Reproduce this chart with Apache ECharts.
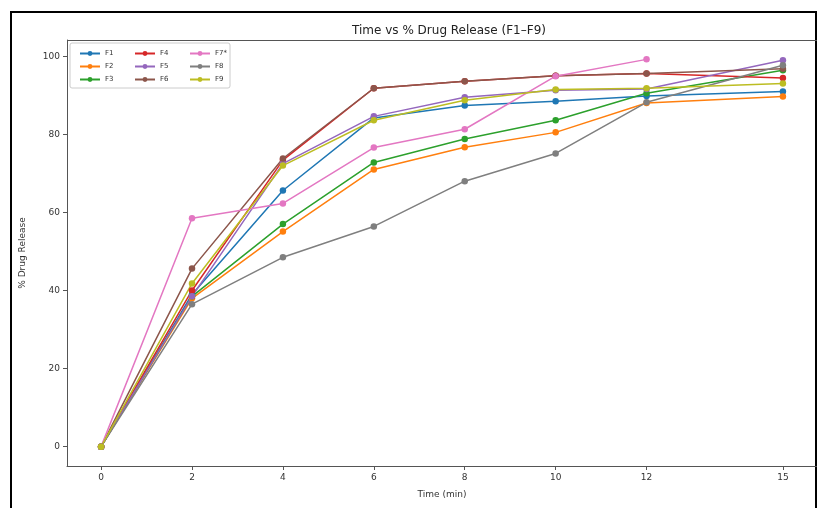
<!DOCTYPE html>
<html>
<head>
<meta charset="utf-8">
<title>Time vs % Drug Release</title>
<script src="https://cdn.jsdelivr.net/npm/echarts@6/dist/echarts.min.js"></script>
<style>
  html, body { margin: 0; padding: 0; background: #fff; }
  #chart { width: 817px; height: 508px; }
</style>
</head>
<body>
<div id="chart"></div>
<script>
// time points (min)
var time = [0, 2, 4, 6, 8, 10, 12, 15];
var xTicks = [0, 2, 4, 6, 8, 10, 12, 15];
var yTicks = [0, 20, 40, 60, 80, 100];

// % drug release per formulation
var f1 = [0, 39.0, 65.6, 84.2, 87.4, 88.5, 89.8, 91.0];
var f2 = [0, 38.0, 55.1, 71.0, 76.7, 80.5, 88.0, 89.7];
var f3 = [0, 38.5, 57.0, 72.8, 78.8, 83.6, 90.5, 96.4];
var f4 = [0, 40.0, 73.4, 91.8, 93.6, 95.0, 95.6, 94.4];
var f5 = [0, 38.5, 72.5, 84.6, 89.5, 91.3, 91.6, 99.0];
var f6 = [0, 45.6, 73.8, 91.8, 93.6, 95.0, 95.6, 96.8];
var f7 = [0, 58.5, 62.3, 76.6, 81.3, 94.9, 99.2];
var f8 = [0, 36.5, 48.5, 56.4, 68.0, 75.1, 88.2, 97.7];
var f9 = [0, 41.8, 72.0, 83.6, 88.7, 91.5, 91.8, 93.0];

var names = ['F1', 'F2', 'F3', 'F4', 'F5', 'F6', 'F7*', 'F8', 'F9'];
var values = [f1, f2, f3, f4, f5, f6, f7, f8, f9];
var colors = ['#1f77b4', '#ff7f0e', '#2ca02c', '#d62728', '#9467bd',
              '#8c564b', '#e377c2', '#7f7f7f', '#bcbd22'];

var font = 'DejaVu Sans';

function pairs(arr) {
    var out = [];
    for (var i = 0; i < arr.length; i++) {
        out.push([time[i], arr[i]]);
    }
    return out;
}

var series = [];
for (var i = 0; i < names.length; i++) {
    series.push({
        name: names[i],
        type: 'line',
        data: pairs(values[i]),
        symbol: 'circle',
        symbolSize: 6.5,
        lineStyle: { width: 1.5, color: colors[i] },
        itemStyle: { color: colors[i] },
        emphasis: { disabled: true },
        animation: false
    });
}

function legendCol(left, data) {
    return {
        orient: 'vertical',
        left: left,
        top: 45,
        itemWidth: 20,
        itemHeight: 6,
        itemGap: 6,
        data: data,
        textStyle: { fontFamily: font, fontSize: 7, color: '#333' },
        selectedMode: false
    };
}

var myChart = echarts.init(document.getElementById('chart'));
var option = {
    backgroundColor: '#fff',
    color: colors,
    title: {
        text: 'Time vs % Drug Release (F1\u2013F9)',
        left: 444,
        textAlign: 'center',
        top: 20,
        textStyle: { fontFamily: font, fontSize: 12, fontWeight: 'normal', color: '#222' }
    },
    legend: [
        legendCol(74, ['F1', 'F2', 'F3']),
        legendCol(129, ['F4', 'F5', 'F6']),
        legendCol(184, ['F7*', 'F8', 'F9'])
    ],
    grid: { left: 67, top: 40, width: 754, height: 426, containLabel: false },
    xAxis: {
        type: 'value',
        min: -0.75,
        max: 15.75,
        name: 'Time (min)',
        nameLocation: 'middle',
        nameGap: 24,
        nameTextStyle: { fontFamily: font, fontSize: 9, color: '#333' },
        axisLine: { show: true, onZero: false, lineStyle: { color: '#555', width: 1 } },
        axisTick: { show: true, length: 4, inside: false, customValues: xTicks, lineStyle: { color: '#555' } },
        axisLabel: { customValues: xTicks, fontFamily: font, fontSize: 9, color: '#333', margin: 7 },
        splitLine: { show: false }
    },
    yAxis: {
        type: 'value',
        min: -4.96,
        max: 104.16,
        name: '% Drug Release',
        nameLocation: 'middle',
        nameGap: 40,
        nameTextStyle: { fontFamily: font, fontSize: 9, color: '#333' },
        axisLine: { show: true, onZero: false, lineStyle: { color: '#555', width: 1 } },
        axisTick: { show: true, length: 4, customValues: yTicks, lineStyle: { color: '#555' } },
        axisLabel: { customValues: yTicks, fontFamily: font, fontSize: 9, color: '#333', margin: 7 },
        splitLine: { show: false }
    },
    graphic: [
        {
            type: 'rect',
            shape: { x: 11, y: 12, width: 805, height: 500 },
            style: { fill: 'none', stroke: '#000', lineWidth: 2 },
            silent: true
        },
        {
            type: 'rect',
            shape: { x: 67, y: 40, width: 754, height: 1 },
            style: { fill: '#555' },
            silent: true
        },
        {
            type: 'rect',
            shape: { x: 70, y: 43, width: 160, height: 45, r: 2 },
            style: { fill: 'rgba(255,255,255,0.8)', stroke: '#ccc', lineWidth: 1 },
            silent: true,
            z: 1
        }
    ],
    series: series
};
myChart.setOption(option);

window.onresize = function () {
    myChart.resize();
};
</script>
</body>
</html>
